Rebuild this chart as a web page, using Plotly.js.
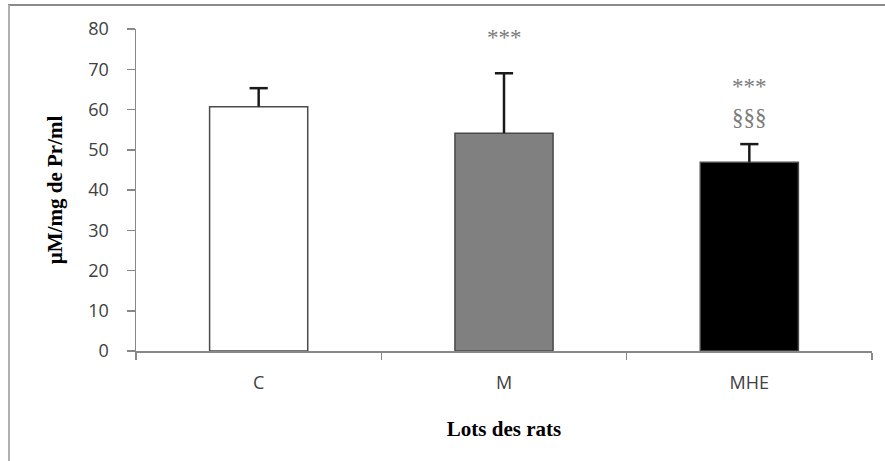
<!DOCTYPE html>
<html>
<head>
<meta charset="utf-8">
<script src="https://cdn.plot.ly/plotly-3.0.1.min.js"></script>
<style>
html, body { margin: 0; padding: 0; background: #fff; }
#chart { width: 885px; height: 461px; }
</style>
</head>
<body>
<div id="chart"></div>
<script>
const categories = ["C", "M", "MHE"];
const means = [60.7, 54.1, 46.9];
const errors = [4.6, 14.9, 4.5];
const barColors = ["#ffffff", "#808080", "#000000"];
const sigLabels = [
  {cat: "M", y: 77.8, text: "***"},
  {cat: "MHE", y: 65.6, text: "***"},
  {cat: "MHE", y: 57.9, text: "§§§"}
];
const yTicks = [0, 10, 20, 30, 40, 50, 60, 70, 80];

const barTrace = {
  type: "bar",
  x: categories,
  y: means,
  marker: { color: barColors, line: { color: "#4a4a4a", width: 1.5 } },
  hoverinfo: "skip"
};
const errTops = means.map((m, i) => m + errors[i]);
const errTrace = {
  type: "scatter",
  mode: "markers",
  x: categories,
  y: errTops,
  marker: { symbol: "line-ew", size: 13, line: { color: "#1a1a1a", width: 2.5 }, color: "#1a1a1a" },
  error_y: { type: "data", symmetric: false, array: [0, 0, 0], arrayminus: errors,
             color: "#1a1a1a", thickness: 2.5, width: 0 },
  hoverinfo: "skip",
  cliponaxis: false
};

const L = 136, R = 13, T = 29, B = 110, W = 885, H = 461;
const pw = W - L - R, ph = H - T - B;
const px = x => (x - L) / pw;
const py = y => (H - B - y) / ph;

const titleFont = { family: "Liberation Serif, Times New Roman, serif", size: 21, color: "#000" };
const tickFont = { family: "Open Sans, sans-serif", size: 18, color: "#404040" };

const layout = {
  width: W, height: H,
  margin: { l: L, r: R, t: T, b: B, pad: 0 },
  paper_bgcolor: "#ffffff", plot_bgcolor: "#ffffff",
  showlegend: false,
  bargap: 0.6,
  xaxis: {
    type: "category",
    showline: true, linecolor: "#888888", linewidth: 1.5,
    ticks: "outside", tickson: "boundaries", ticklen: 7, tickcolor: "#888888", tickwidth: 1.5,
    tickfont: tickFont,
    ticklabelstandoff: 15,
    showgrid: false, zeroline: false,
    title: { text: "<b>Lots des rats</b>", font: titleFont, standoff: 28 }
  },
  yaxis: {
    range: [0, 80], tickvals: yTicks,
    showline: true, linecolor: "#888888", linewidth: 1.5,
    ticks: "outside", ticklen: 8, tickcolor: "#888888", tickwidth: 1.5,
    tickfont: tickFont,
    ticklabelstandoff: 14,
    showgrid: false, zeroline: false,
    title: { text: "<b>µM/mg de Pr/ml</b>", font: titleFont, standoff: 20 }
  },
  annotations: sigLabels.map(s => ({
    x: s.cat, y: s.y, xref: "x", yref: "y", text: s.text, showarrow: false,
    font: { family: "Liberation Serif, Times New Roman, serif", size: 23, color: "#7a7a7a" }
  })),
  shapes: [
    { type: "line", xref: "paper", yref: "paper", x0: px(8), x1: px(885), y0: py(5), y1: py(5),
      line: { color: "#8a8a8a", width: 2 } },
    { type: "line", xref: "paper", yref: "paper", x0: px(9), x1: px(9), y0: py(5), y1: py(461),
      line: { color: "#b0b0b0", width: 2 } }
  ]
};

Plotly.newPlot("chart", [barTrace, errTrace], layout, { staticPlot: true, displayModeBar: false });
</script>
</body>
</html>
